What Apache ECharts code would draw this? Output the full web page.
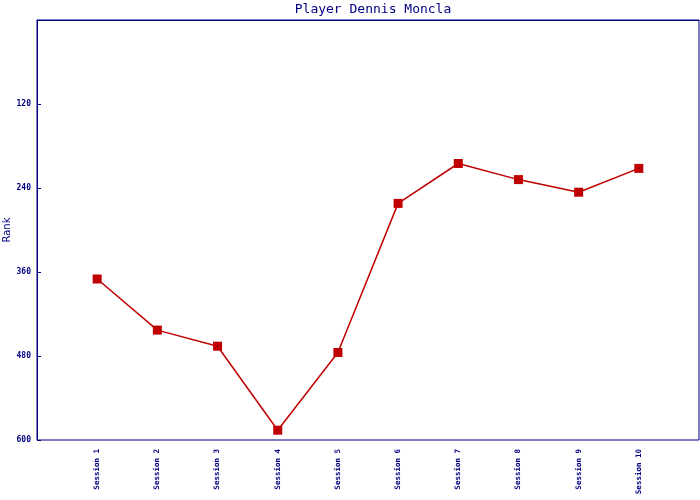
<!DOCTYPE html>
<html>
<head>
<meta charset="utf-8">
<script src="https://cdn.jsdelivr.net/npm/echarts@6/dist/echarts.min.js"></script>
<style>html,body{margin:0;padding:0;background:#fff}#c{width:700px;height:500px}</style>
</head>
<body>
<div id="c"></div>
<script>
const categories = ["Session 1","Session 2","Session 3","Session 4","Session 5","Session 6","Session 7","Session 8","Session 9","Session 10"];
const ranks = [370, 443, 466, 586, 475, 262, 205, 228, 246, 212];
const yTicks = [120, 240, 360, 480, 600];
const titleText = "Player Dennis Moncla";
const yName = "Rank";

const navy = "#000080";
const red = "#c00000";
const chart = echarts.init(document.getElementById('c'), null, {renderer: 'canvas'});
chart.setOption({
  animation: false,
  backgroundColor: '#fff',
  title: {
    text: titleText, left: 368, textAlign: 'center', top: -2,
    textStyle: {fontFamily: 'DejaVu Sans Mono', fontSize: 13, fontWeight: 'normal', color: navy}
  },
  grid: {left: 37, right: 1, top: 20, bottom: 60, containLabel: false, outerBoundsMode: 'none',
         show: true, borderColor: navy, borderWidth: 1, backgroundColor: '#fff'},
  xAxis: {
    type: 'value', min: 0, max: categories.length + 1, interval: 1,
    axisLine: {show: true, lineStyle: {color: navy, width: 1}},
    axisTick: {show: false},
    splitLine: {show: false},
    axisLabel: {
      rotate: 90, margin: 9, color: navy,
      fontFamily: 'DejaVu Sans Mono', fontSize: 7.5, fontWeight: 'bold',
      formatter: v => (v >= 1 && v <= categories.length) ? categories[v - 1] : ''
    }
  },
  yAxis: {
    type: 'value', inverse: true, min: 0, max: 600, interval: 120,
    name: yName, nameLocation: 'middle', nameGap: 25, nameMoveOverlap: false,
    nameTextStyle: {color: navy, fontFamily: 'DejaVu Sans', fontSize: 10},
    axisLine: {show: true, lineStyle: {color: navy, width: 1}},
    axisTick: {show: true, inside: true, length: 4, lineStyle: {color: navy}},
    splitLine: {show: false},
    axisLabel: {
      color: navy, margin: 6, fontFamily: 'DejaVu Sans Mono', fontSize: 8, fontWeight: 'bold',
      formatter: v => yTicks.includes(v) ? String(v) : ''
    }
  },
  series: [{
    type: 'line',
    data: ranks.map((r, i) => [i + 1, r]),
    symbol: 'rect', symbolSize: 9,
    itemStyle: {color: red},
    lineStyle: {color: red, width: 1.5}
  }]
});
</script>
</body>
</html>
